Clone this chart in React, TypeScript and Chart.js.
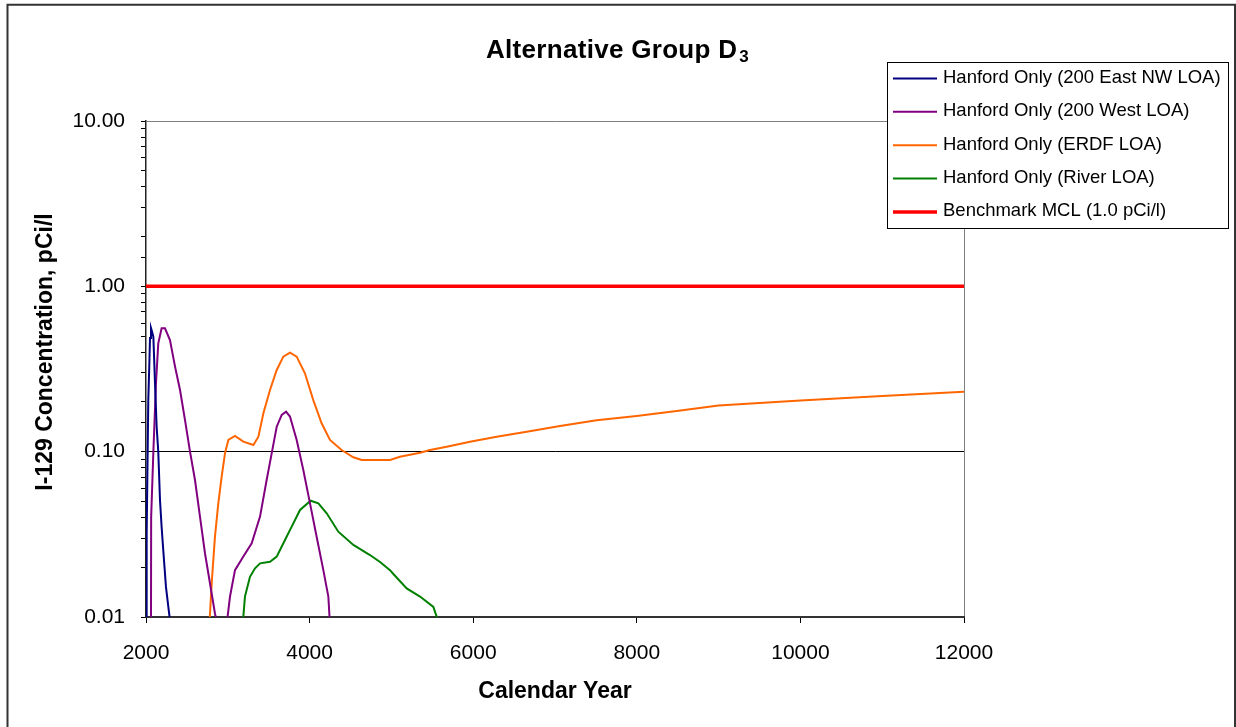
import React, { useEffect, useRef } from 'react';
import { Chart, registerables } from 'chart.js';

Chart.register(...registerables);

const FONT = '"Liberation Sans", Arial, "DejaVu Sans", sans-serif';

const chartTitleMain = 'Alternative Group D';
const chartTitleSub = '3';
const xAxisTitle = 'Calendar Year';
const yAxisTitle = 'I-129 Concentration, pCi/l';

const xMin = 2000;
const xMax = 12000;
const xStep = 2000;
const yMin = 0.01;
const yMax = 10;

const seriesLabels = [
  'Hanford Only (200 East NW LOA)',
  'Hanford Only (200 West LOA)',
  'Hanford Only (ERDF LOA)',
  'Hanford Only (River LOA)',
  'Benchmark MCL (1.0 pCi/l)',
];
const seriesColors = ['#000080', '#800080', '#FF6600', '#008000', '#FF0000'];
const seriesWidths = [2, 2, 2, 2, 3.5];

const eastYears = [2000, 2008, 2028, 2040, 2049, 2061, 2075, 2090, 2110, 2130, 2150, 2171, 2191, 2208, 2244, 2273, 2300];
const eastValues = [0.009, 0.032, 0.205, 0.327, 0.487, 0.56, 0.53, 0.495, 0.26, 0.142, 0.1, 0.051, 0.035, 0.0266, 0.0152, 0.0115, 0.009];

const westYears = [2061, 2063, 2090, 2122, 2150, 2191, 2232, 2293, 2355, 2416, 2477, 2538, 2599, 2660, 2721, 2782, 2843, 2872, 2930, 2986, 3027, 3088, 3190, 3292, 3394, 3475, 3537, 3598, 3659, 3712, 3760, 3842, 3923, 4005, 4086, 4168, 4229, 4249];
const westValues = [0.009, 0.04, 0.1, 0.259, 0.452, 0.557, 0.557, 0.473, 0.327, 0.236, 0.155, 0.1, 0.0674, 0.0405, 0.0243, 0.016, 0.0105, 0.009, null, 0.009, 0.0133, 0.0192, 0.0232, 0.0279, 0.0405, 0.0674, 0.098, 0.1416, 0.1667, 0.1745, 0.163, 0.1177, 0.0775, 0.0487, 0.0306, 0.0192, 0.0133, 0.009];

const erdfYears = [2775, 2803, 2843, 2884, 2925, 2966, 3007, 3088, 3190, 3313, 3374, 3435, 3516, 3598, 3679, 3760, 3842, 3943, 4045, 4147, 4249, 4391, 4535, 4637, 4983, 5105, 5350, 5472, 5676, 5961, 6287, 6654, 7061, 7509, 7998, 8487, 9000, 10000, 11000, 12000];
const erdfValues = [0.009, 0.016, 0.0306, 0.0487, 0.0706, 0.098, 0.1177, 0.1244, 0.1149, 0.1097, 0.1232, 0.1706, 0.236, 0.312, 0.3755, 0.397, 0.3755, 0.298, 0.205, 0.1485, 0.1177, 0.1023, 0.0925, 0.089, 0.089, 0.0932, 0.0986, 0.1023, 0.1072, 0.1149, 0.1232, 0.132, 0.143, 0.155, 0.1644, 0.176, 0.19, 0.204, 0.217, 0.23];

const riverYears = [3182, 3210, 3271, 3333, 3394, 3516, 3598, 3699, 3781, 3883, 4013, 4107, 4209, 4351, 4535, 4738, 4861, 4983, 5024, 5187, 5350, 5513, 5586];
const riverValues = [0.009, 0.0133, 0.0175, 0.0197, 0.0211, 0.0216, 0.0232, 0.0292, 0.0352, 0.0444, 0.0505, 0.0487, 0.0424, 0.0328, 0.0273, 0.0237, 0.0215, 0.0192, 0.0182, 0.0149, 0.0133, 0.0115, 0.009];

const mclYears = [2000, 12000];
const mclValues = [1.0, 1.0];

const seriesYears = [eastYears, westYears, erdfYears, riverYears, mclYears];
const seriesValues = [eastValues, westValues, erdfValues, riverValues, mclValues];

const isDecade = (v: number) => Math.abs(Math.log10(v) - Math.round(Math.log10(v))) < 1e-6;

const decorPlugin = {
  id: 'frameTitleLegend',
  afterDraw(chart: any) {
    const ctx = chart.ctx as CanvasRenderingContext2D;
    ctx.save();
    // outer frame
    ctx.strokeStyle = '#333';
    ctx.lineWidth = 2;
    ctx.beginPath();
    ctx.moveTo(7.5, 740);
    ctx.lineTo(7.5, 4.8);
    ctx.lineTo(1235, 4.8);
    ctx.lineTo(1235, 740);
    ctx.stroke();

    // chart title with subscript
    ctx.save();
    ctx.fillStyle = '#000';
    ctx.textAlign = 'left';
    ctx.textBaseline = 'alphabetic';
    ctx.font = `bold 26px ${FONT}`;
    (ctx as any).letterSpacing = '0.3px';
    ctx.fillText(chartTitleMain, 486, 57.5);
    const w = ctx.measureText(chartTitleMain).width;
    ctx.font = `bold 17px ${FONT}`;
    (ctx as any).letterSpacing = '0px';
    ctx.fillText(chartTitleSub, 486 + w + 2, 62);
    ctx.restore();

    // y-axis title
    ctx.save();
    ctx.translate(46, 352);
    ctx.rotate(-Math.PI / 2);
    ctx.font = `bold 23px ${FONT}`;
    ctx.fillStyle = '#000';
    ctx.textAlign = 'center';
    ctx.textBaseline = 'middle';
    ctx.fillText(yAxisTitle, 0, 0);
    ctx.restore();

    // legend box
    const bx = 887.5, by = 62.5, bw = 341, bh = 166;
    ctx.fillStyle = '#fff';
    ctx.fillRect(bx, by, bw, bh);
    ctx.strokeStyle = '#000';
    ctx.lineWidth = 1;
    ctx.strokeRect(bx, by, bw, bh);
    chart.data.datasets.forEach((ds: any, i: number) => {
      const y = 78.5 + i * 33.35;
      ctx.strokeStyle = ds.borderColor;
      ctx.lineWidth = ds.borderWidth;
      ctx.beginPath();
      ctx.moveTo(893, y);
      ctx.lineTo(937, y);
      ctx.stroke();
      ctx.fillStyle = '#000';
      ctx.font = `18.5px ${FONT}`;
      ctx.textAlign = 'left';
      ctx.textBaseline = 'middle';
      ctx.fillText(ds.label, 943, y - 0.5);
    });
    ctx.restore();
  },
};

export default function App() {
  const canvasRef = useRef<HTMLCanvasElement | null>(null);

  useEffect(() => {
    if (!canvasRef.current) return;
    const datasets = seriesLabels.map((label, i) => ({
      label,
      data: seriesYears[i].map((x, j) => ({ x, y: seriesValues[i][j] })),
      borderColor: seriesColors[i],
      backgroundColor: seriesColors[i],
      borderWidth: seriesWidths[i],
      pointRadius: 0,
      tension: 0,
      fill: false,
      spanGaps: false,
    }));

    const chart = new Chart(canvasRef.current, {
      type: 'line',
      data: { datasets } as any,
      options: {
        animation: false,
        responsive: true,
        maintainAspectRatio: false,
        layout: { padding: { left: 8, right: 272, top: 121, bottom: 0 } },
        plugins: {
          legend: { display: false },
          tooltip: { enabled: false },
          title: { display: false },
        },
        scales: {
          x: {
            type: 'linear',
            min: xMin,
            max: xMax,
            ticks: {
              stepSize: xStep,
              color: '#000',
              font: { family: FONT, size: 21 },
              padding: 18,
              maxRotation: 0,
              autoSkip: false,
              callback: (v: any) => String(v),
            },
            grid: {
              color: (c: any) => (c.tick && c.tick.value === xMax ? '#808080' : 'rgba(0,0,0,0)'),
              tickColor: '#000',
              tickLength: 6,
              lineWidth: 1,
            },
            border: { color: '#333', width: 2 },
            title: {
              display: true,
              text: xAxisTitle,
              color: '#000',
              font: { family: FONT, size: 23, weight: 'bold' },
              padding: { top: 0, bottom: 22 },
            },
            afterFit: (s: any) => {
              s.height = 110;
            },
          },
          y: {
            type: 'logarithmic',
            min: yMin,
            max: yMax,
            ticks: {
              color: '#000',
              font: { family: FONT, size: 21 },
              padding: 16,
              autoSkip: false,
              callback: (v: any) => (isDecade(Number(v)) ? Number(v).toFixed(2) : ''),
            },
            grid: {
              color: (c: any) => {
                const v = c.tick ? c.tick.value : 0;
                if (!isDecade(v)) return 'rgba(0,0,0,0)';
                if (Math.abs(v - yMax) < 1e-9) return '#808080';
                if (Math.abs(v - yMin) < 1e-9) return 'rgba(0,0,0,0)';
                return '#000';
              },
              tickColor: '#000',
              tickLength: 5,
              lineWidth: 1,
            },
            border: { color: '#222', width: 1.5 },
            afterFit: (s: any) => {
              s.width = 138;
            },
          },
        },
      } as any,
      plugins: [decorPlugin],
    });

    return () => chart.destroy();
  }, []);

  return (
    <div style={{ position: 'absolute', left: 0, top: 0, width: 1236, height: 727, background: '#fff' }}>
      <canvas ref={canvasRef} />
    </div>
  );
}
